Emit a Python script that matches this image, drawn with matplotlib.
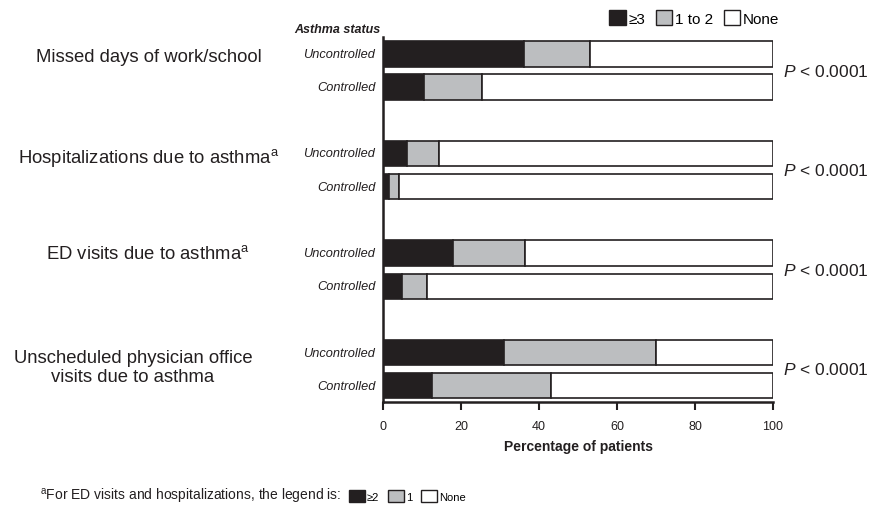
import matplotlib
matplotlib.use("Agg")
import matplotlib.pyplot as plt
from matplotlib.patches import Patch

plt.rcParams['font.family'] = ['Liberation Sans', 'DejaVu Sans']
plt.rcParams['mathtext.fontset'] = 'custom'
plt.rcParams['mathtext.rm'] = 'Liberation Sans'
plt.rcParams['mathtext.it'] = 'Liberation Sans:italic'
plt.rcParams['mathtext.bf'] = 'Liberation Sans:bold'

# ---- data ----
outcomes = ["Missed days of work/school",
            "Hospitalizations due to asthma$^\\mathrm{a}$",
            "ED visits due to asthma$^\\mathrm{a}$",
            "Unscheduled physician office\nvisits due to asthma"]
statuses = ["Uncontrolled", "Controlled"]
# percentages per outcome: [uncontrolled, controlled]
high = [[36.2, 10.6], [6.1, 1.6], [17.9, 4.9], [30.9, 12.5]]      # >=3 (or >=2)
mid = [[17.0, 14.9], [8.3, 2.4], [18.6, 6.4], [39.1, 30.6]]       # 1 to 2 (or 1)
none = [[46.8, 74.5], [85.6, 96.0], [63.5, 88.7], [30.0, 56.9]]    # None
pvals = ["P < 0.0001"] * 4
legend_labels = ["\u22653", "1 to 2", "None"]
foot_labels = ["\u22652", "1", "None"]

C_BLACK = "#231f20"
C_GRAY = "#bcbec0"
C_WHITE = "#ffffff"
EDGE = "#231f20"

W, H = 875, 510
fig = plt.figure(figsize=(W / 100, H / 100), dpi=100)

def fx(px):
    return px / W

def fy(py):
    return 1 - py / H

ax = fig.add_axes([fx(383), fy(403), fx(773) - fx(383), fy(38) - fy(403)])

for g in range(len(outcomes)):
    for s in range(2):
        y = 3 * g + s
        h, m, n = high[g][s], mid[g][s], none[g][s]
        ax.barh(y, h, left=0, height=0.76, color=C_BLACK, edgecolor=EDGE, linewidth=1.2)
        ax.barh(y, m, left=h, height=0.76, color=C_GRAY, edgecolor=EDGE, linewidth=1.2)
        ax.barh(y, n, left=h + m, height=0.76, color=C_WHITE, edgecolor=EDGE, linewidth=1.2)
        ax.text(-2, y, statuses[s], ha='right', va='center', fontsize=9.2, style='italic',
                color='#231f20')
    ax.text(102.5, 3 * g + 0.5, "$\\it{P}$ < 0.0001", ha='left', va='center', fontsize=12.5,
            color='#231f20')

ax.set_xlim(0, 100)
ax.set_ylim(10.49, -0.51)
ax.set_xticks([0, 20, 40, 60, 80, 100])
ax.set_yticks([])
ax.tick_params(axis='x', direction='out', length=6, width=1.5, labelsize=9, pad=7,
               colors='#231f20', labelcolor='#231f20')
for sp in ['top', 'right']:
    ax.spines[sp].set_visible(False)
for sp in ['left', 'bottom']:
    ax.spines[sp].set_linewidth(1.8)
    ax.spines[sp].set_color('#231f20')
ax.set_xlabel("Percentage of patients", fontsize=10, fontweight='bold', labelpad=5,
              color='#231f20')

# outcome labels
label_pos = [(149, 58), (149, 158), (148, 254), (133, 368)]
for lab, (px, py) in zip(outcomes, label_pos):
    fig.text(fx(px), fy(py), lab, ha='center', va='center', fontsize=13.3,
             color='#231f20', linespacing=1.15)

fig.text(fx(380), fy(30), "Asthma status", ha='right', va='center', fontsize=9,
         fontweight='bold', style='italic', color='#231f20')

# top legend
handles = [Patch(facecolor=c, edgecolor=EDGE, linewidth=1.0) for c in (C_BLACK, C_GRAY, C_WHITE)]
fig.legend(handles, legend_labels, loc='center right', bbox_to_anchor=(fx(779), fy(19)),
           ncol=3, frameon=False, fontsize=11, handlelength=1.1, handleheight=1.1,
           handletextpad=0.15, columnspacing=0.7, borderpad=0, borderaxespad=0)

# footnote
fig.text(fx(40), fy(497), "$^\\mathrm{a}$For ED visits and hospitalizations, the legend is:",
         ha='left', va='center', fontsize=10, color='#231f20')
fig.legend(handles, foot_labels, loc='center left', bbox_to_anchor=(fx(349), fy(497)),
           ncol=3, frameon=False, fontsize=8, handlelength=1.4, handleheight=1.2,
           handletextpad=0.2, columnspacing=0.8, borderpad=0, borderaxespad=0)

fig.savefig("out.png", dpi=100)
